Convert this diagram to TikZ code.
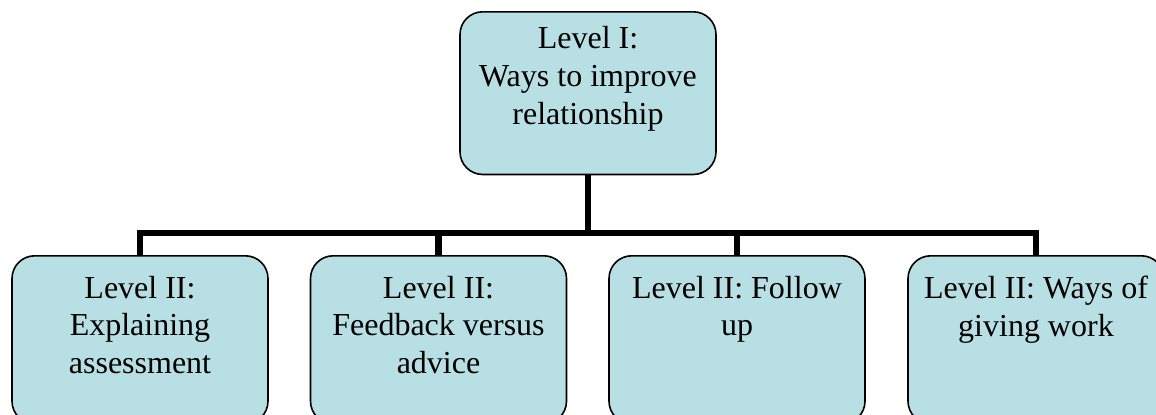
\documentclass[tikz,border=0pt]{standalone}
\usepackage{fontspec}
\setmainfont{Liberation Serif}
\definecolor{boxfill}{RGB}{184,223,227}
\tikzset{
  box/.style={draw=black, line width=1.2pt, fill=boxfill, rounded corners=17pt,
    inner sep=0pt, minimum width=192pt, anchor=north},
  conn/.style={draw=black, line width=4.6pt}
}
\newcommand{\boxtext}[3]{\parbox[c][#1][t]{190pt}{\centering\fontsize{24pt}{28.3pt}\selectfont\vspace*{#2}#3\par}}
\begin{document}
\begin{tikzpicture}[x=0.75pt,y=-0.75pt]
\useasboundingbox (0,0) rectangle (1156,414);
\clip (0,0) rectangle (1156,414);
\node[box] (top) at (588,11) {\boxtext{122pt}{11pt}{Level I:\\Ways to improve\\relationship}};
\node[box] (b1) at (140,255) {\boxtext{126pt}{15pt}{Level II:\\Explaining\\assessment}};
\node[box] (b2) at (438.5,255) {\boxtext{126pt}{15pt}{Level II:\\Feedback versus\\advice}};
\node[box] (b3) at (737,255) {\boxtext{126pt}{15pt}{Level II: Follow\\up}};
\node[box] (b4) at (1036,255) {\boxtext{126pt}{15pt}{Level II: Ways of\\giving work}};
\coordinate (j) at (588,233);
\draw[conn] (b1.north) |- (b4.north |- j) -- (b4.north);
\draw[conn] (top.south) -- (top.south |- j);
\draw[conn] (b2.north) -- (b2.north |- j);
\draw[conn] (b3.north) -- (b3.north |- j);
\end{tikzpicture}
\end{document}
